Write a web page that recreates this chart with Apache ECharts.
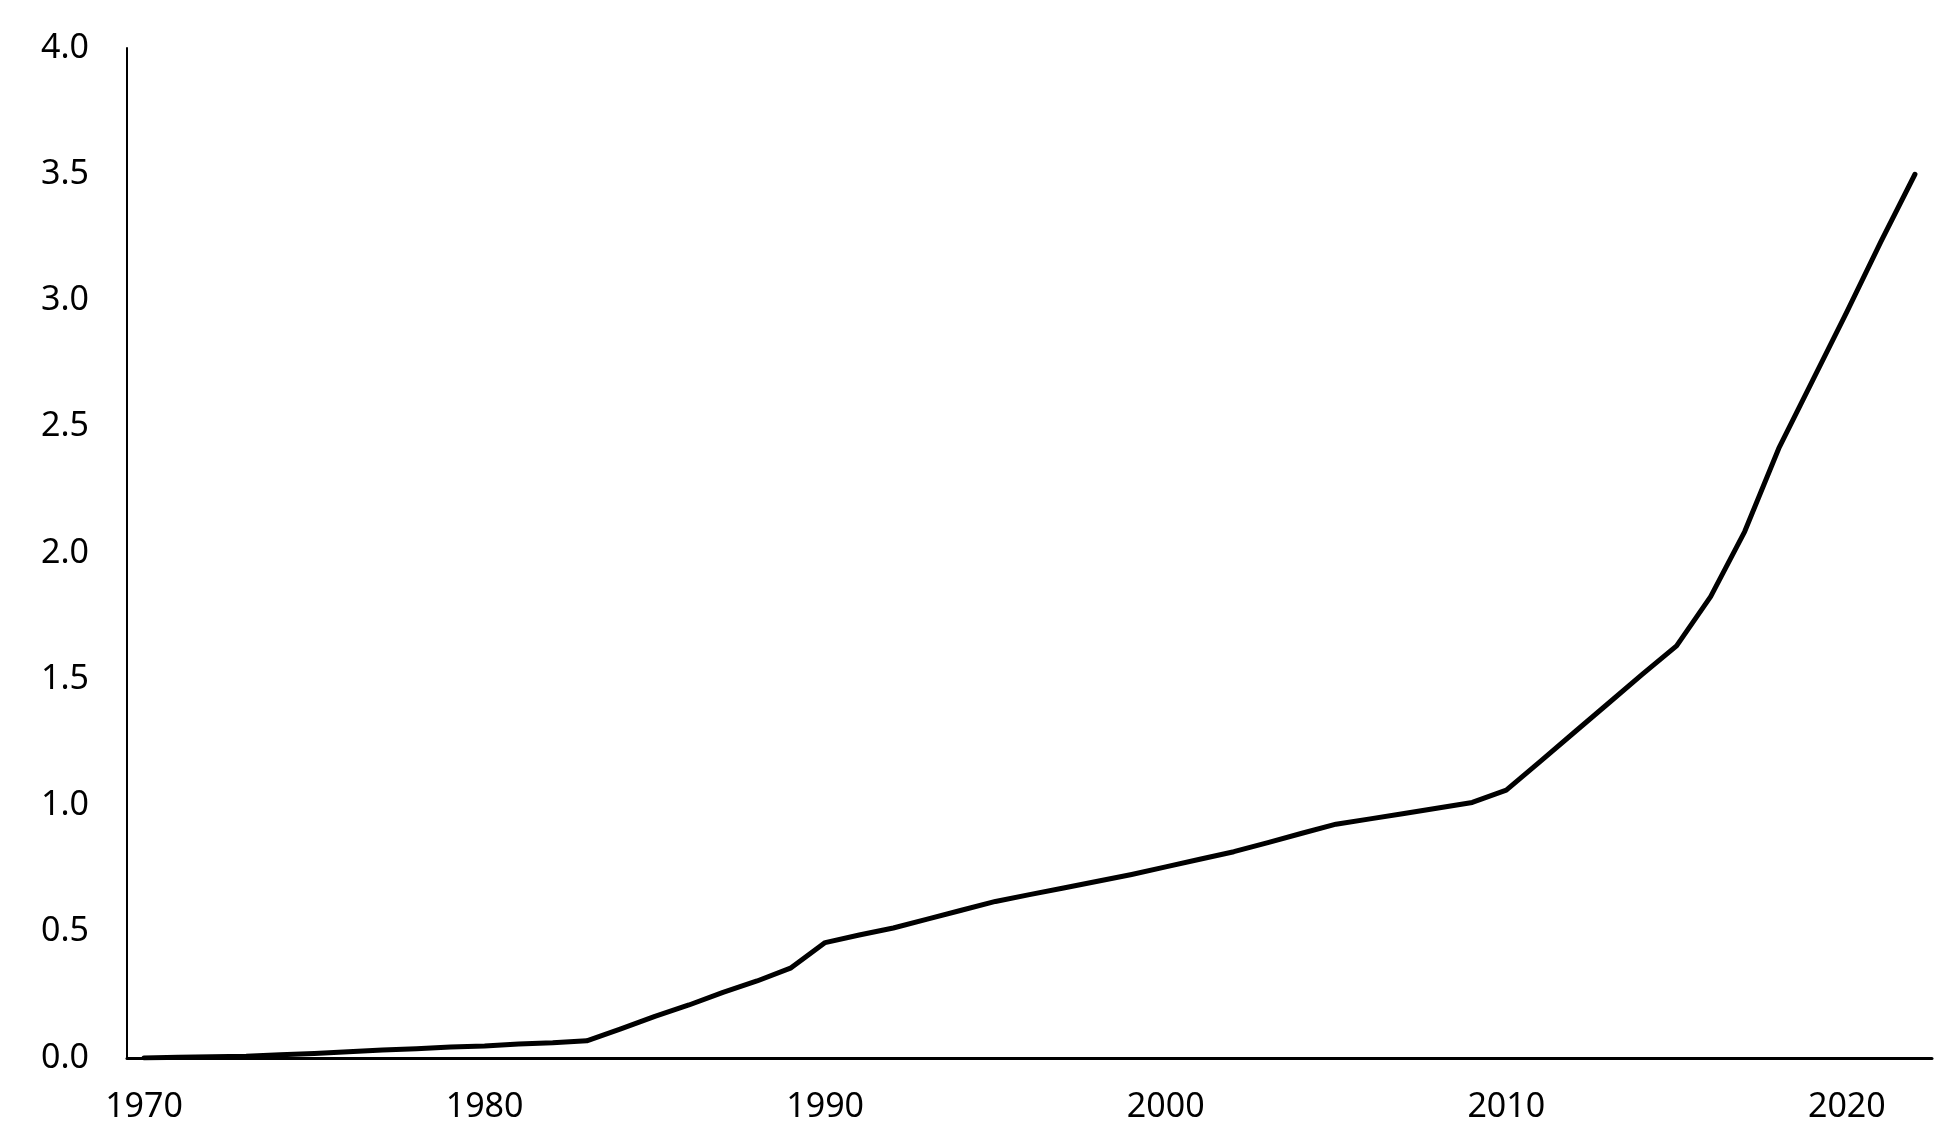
<!DOCTYPE html>
<html>
<head>
<meta charset="utf-8">
<script src="https://cdn.jsdelivr.net/npm/echarts@6/dist/echarts.min.js"></script>
<style>
html,body{margin:0;padding:0;background:#fff;}
#chart{width:1952px;height:1134px;}
</style>
</head>
<body>
<div id="chart"></div>
<script>
var years = [];
for (var y = 1970; y <= 2022; y++) { years.push(String(y)); }

// values, 1970..2022
var values = [
	0.000, 0.003, 0.005, 0.007, 0.013, 0.018, 0.025, 0.032, 0.037, 0.044,
	0.048, 0.055, 0.060, 0.068, 0.115, 0.165, 0.210, 0.260, 0.305, 0.357,
	0.457, 0.487, 0.515, 0.550, 0.585, 0.620, 0.647, 0.673, 0.700, 0.727,
	0.757, 0.787, 0.817, 0.853, 0.890, 0.926, 0.947, 0.968, 0.990, 1.012,
	1.061, 1.175, 1.290, 1.405, 1.520, 1.632, 1.827, 2.085, 2.414, 2.685,
	2.955, 3.233, 3.500
];

var yTicks = { min: 0, max: 4, interval: 0.5 };

var chart = echarts.init(document.getElementById("chart"));
var labelFont = { color: '#000', fontSize: 34, fontFamily: 'Noto Sans' };

var option = {
	animation: false,
	grid: { left: 127, right: 20, top: 48, bottom: 76, containLabel: false },
	xAxis: {
		type: 'category',
		data: years,
		boundaryGap: true,
		axisLine: { lineStyle: { color: '#000', width: 3 } },
		axisTick: { show: false },
		axisLabel: {
			color: labelFont.color,
			fontSize: labelFont.fontSize,
			fontFamily: labelFont.fontFamily,
			margin: 32,
			interval: 9
		}
	},
	yAxis: {
		type: 'value',
		min: yTicks.min,
		max: yTicks.max,
		interval: yTicks.interval,
		axisLine: { show: true, lineStyle: { color: '#000', width: 2 } },
		axisTick: { show: false },
		splitLine: { show: false },
		axisLabel: {
			color: labelFont.color,
			fontSize: labelFont.fontSize,
			fontFamily: labelFont.fontFamily,
			margin: 38,
			formatter: function (v) { return v.toFixed(1); }
		}
	},
	series: [{
		type: 'line',
		data: values,
		symbol: 'none',
		lineStyle: { color: '#000', width: 5, cap: 'round', join: 'round' }
	}]
};
chart.setOption(option);
</script>
</body>
</html>
